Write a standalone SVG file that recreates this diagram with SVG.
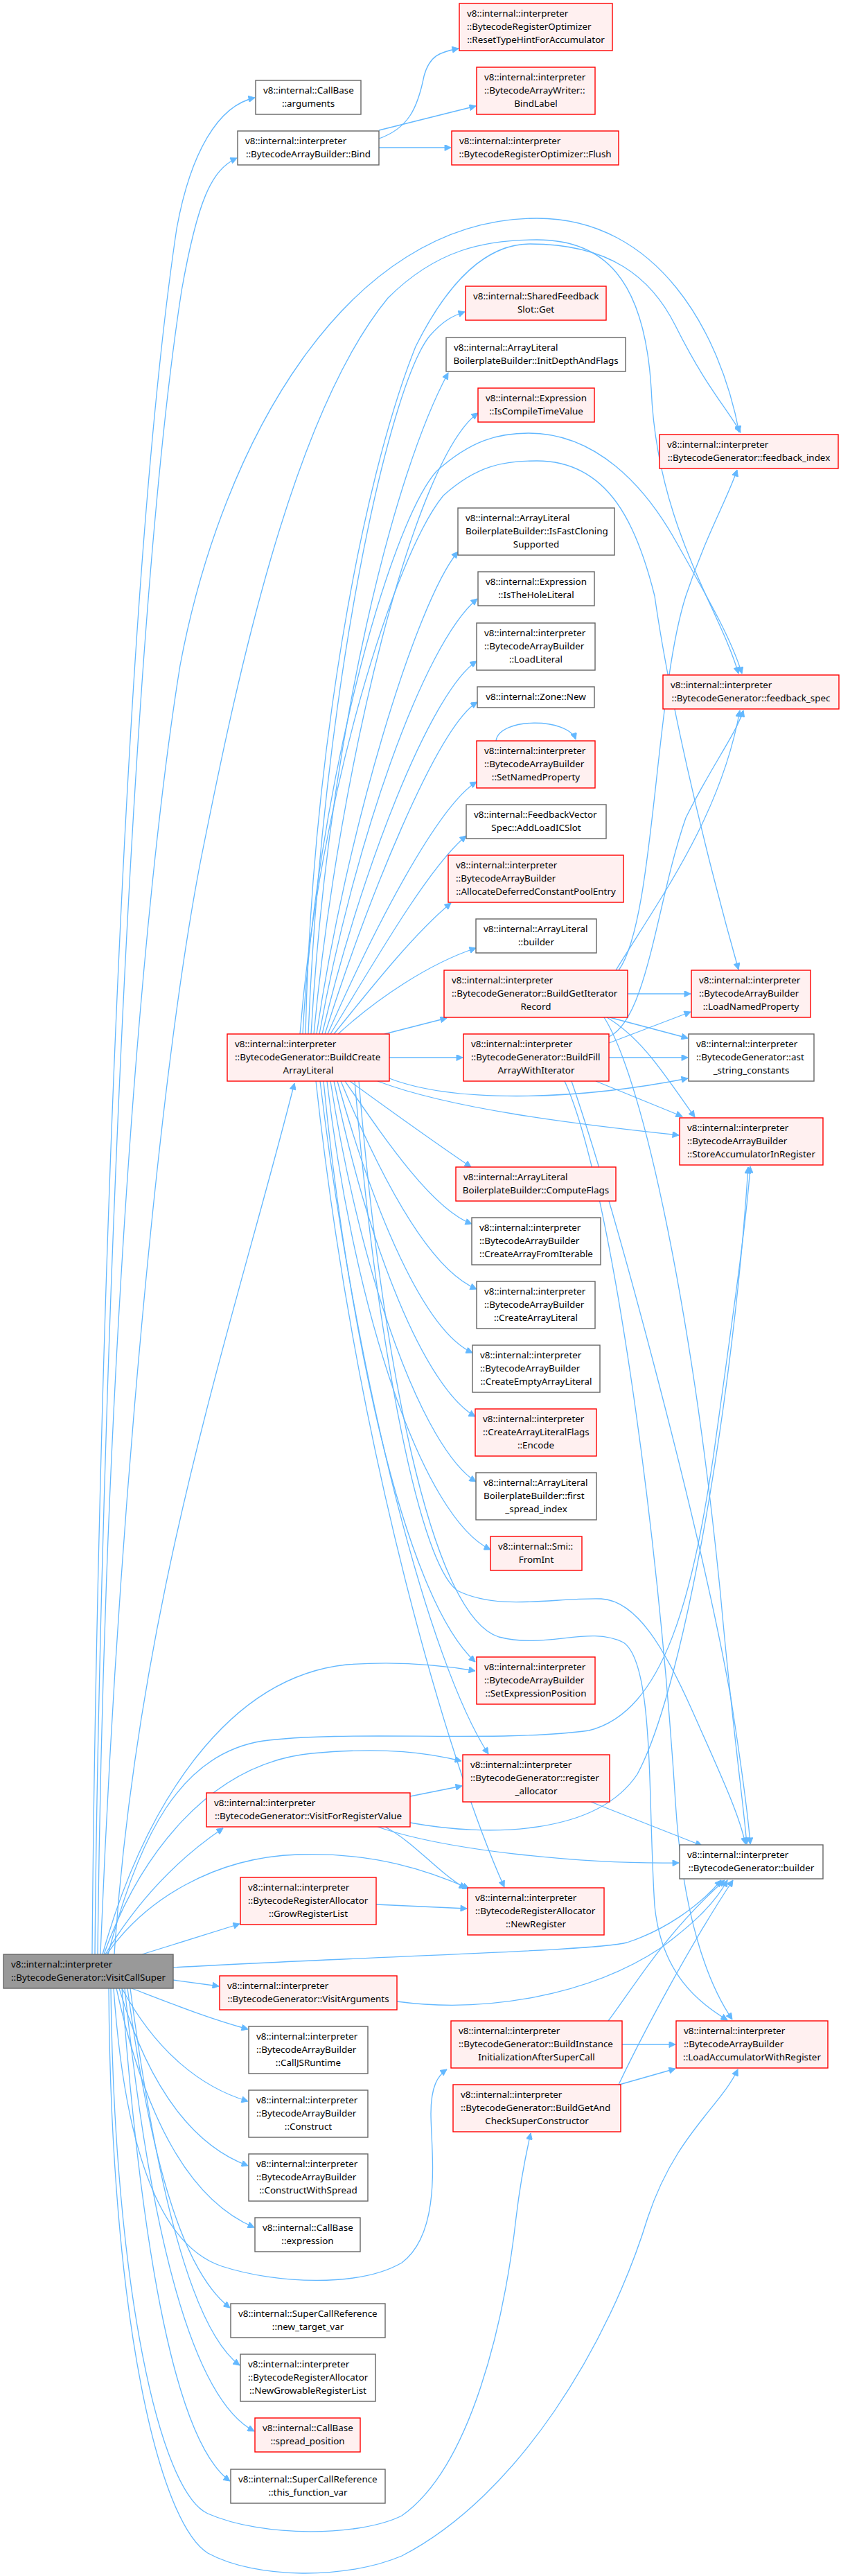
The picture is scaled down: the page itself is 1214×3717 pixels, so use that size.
<svg xmlns="http://www.w3.org/2000/svg" width="1214" height="3717" viewBox="0 0 1214 3717">
<style>
text{font-family:"Noto Sans","Liberation Sans",sans-serif;font-size:13.4px;fill:#000}
.c{text-anchor:middle}
.n rect{fill:#fff;stroke:#666;stroke-width:1.4}
.r rect{fill:#fff0f0;stroke:#ff0000;stroke-width:1.4}
.root rect{fill:#999;stroke:#666;stroke-width:1.4}
#edges path{fill:none;stroke:#63b8ff;stroke-width:1.3;marker-end:url(#a)}
</style>
<defs>
<marker id="a" viewBox="0 0 10 10" refX="10" refY="5" markerWidth="13" markerHeight="9" markerUnits="userSpaceOnUse" orient="auto">
<path d="M0,0 L10,5 L0,10 z" fill="#63b8ff" stroke="#63b8ff"/>
</marker>
</defs>
<rect width="1214" height="3717" fill="#fff"/>
<g id="edges">
<path d="M133,2820 C138,2200 170,900 255,330 C275,220 315,152 368,141"/>
<path d="M137,2820 C142,2250 180,950 262,420 C285,290 305,245 342,228"/>
<path d="M141,2820 C150,2000 205,1300 260,960 C320,640 500,315 775,315 C950,315 1040,480 1067,624"/>
<path d="M145,2820 C170,2200 230,1550 290,1240 C340,990 420,600 560,430 C630,360 700,346 775,346 C870,346 930,400 940,560 C948,760 1040,880 1066,972"/>
<path d="M165,2820 C200,2300 340,1900 425,1563"/>
<path d="M148,2820 C210,2600 330,2420 500,2402 C580,2396 640,2403 686,2411"/>
<path d="M150,2820 C200,2680 300,2545 450,2530 C560,2520 620,2530 666,2541"/>
<path d="M152,2820 C200,2740 260,2680 322,2638"/>
<path d="M154,2820 C210,2740 310,2680 430,2676 C540,2672 620,2700 677,2725"/>
<path d="M205,2820 L346,2776"/>
<path d="M156,2820 C200,2650 260,2530 380,2512 C500,2496 720,2515 850,2497 C960,2470 1000,2300 1030,2100 C1055,1920 1078,1760 1083,1683"/>
<path d="M250,2839 C550,2822 860,2815 905,2803 C960,2785 1010,2750 1041,2713"/>
<path d="M250,2857 L316,2866"/>
<path d="M190,2869 C250,2892 300,2912 358,2928"/>
<path d="M176,2869 C225,2960 290,3012 358,3032"/>
<path d="M172,2869 C220,3030 290,3100 358,3125"/>
<path d="M168,2869 C210,3060 275,3175 367,3214"/>
<path d="M164,2869 C180,3100 230,3240 320,3270 C400,3296 520,3300 580,3265 C640,3220 622,3100 622,3050 C622,3010 632,2995 645,2986"/>
<path d="M160,2869 C165,3300 230,3595 300,3627 C380,3662 520,3660 580,3630 C680,3560 728,3350 745,3200 C752,3140 760,3105 766,3078"/>
<path d="M157,2869 C160,3350 230,3640 300,3684 C370,3722 500,3722 580,3688 C750,3600 880,3380 935,3200 C975,3080 1040,3040 1065,2986"/>
<path d="M184,2869 C215,3100 260,3275 332,3330"/>
<path d="M188,2869 C225,3150 275,3360 346,3413"/>
<path d="M180,2869 C215,3210 275,3460 367,3508"/>
<path d="M176,2869 C205,3260 255,3525 332,3580"/>
<path d="M547,200 C590,185 603,155 612,110 C620,80 635,75 662,70"/>
<path d="M547,188 L687,153"/>
<path d="M547,213 L651,213"/>
<path d="M445,1492 C465,1000 560,560 620,485 C640,462 655,455 671,450"/>
<path d="M449,1492 C475,1050 570,680 647,538"/>
<path d="M453,1492 C490,1100 600,660 690,596"/>
<path d="M457,1492 C500,1200 600,870 661,796"/>
<path d="M461,1492 C510,1220 610,930 689,864"/>
<path d="M465,1492 C520,1260 620,1000 688,954"/>
<path d="M469,1492 C530,1300 630,1050 689,1013"/>
<path d="M473,1492 C540,1340 630,1165 688,1128"/>
<path d="M477,1492 C545,1380 620,1250 673,1206"/>
<path d="M482,1492 C540,1420 600,1345 651,1303"/>
<path d="M488,1492 C545,1440 620,1390 687,1368"/>
<path d="M555,1492 L645,1469"/>
<path d="M562,1526 L668,1526"/>
<path d="M562,1556 C650,1590 820,1590 993,1556"/>
<path d="M545,1560 C650,1600 830,1622 980,1638"/>
<path d="M441,1492 C450,1100 520,700 600,500 C660,380 720,352 765,352 C880,352 940,400 975,470 C1020,560 1050,590 1069,624"/>
<path d="M437,1492 C455,1150 560,760 630,680 C680,635 720,625 763,625 C860,625 930,700 975,780 C1020,860 1055,920 1071,972"/>
<path d="M433,1492 C460,1150 570,800 640,715 C690,670 730,665 775,665 C880,665 920,760 945,860 C965,1000 1010,1200 1066,1399"/>
<path d="M505,1560 C560,1600 630,1650 680,1684"/>
<path d="M498,1560 C560,1650 625,1745 681,1766"/>
<path d="M492,1560 C550,1700 620,1832 688,1860"/>
<path d="M487,1560 C540,1750 612,1920 682,1952"/>
<path d="M482,1560 C532,1800 612,2000 686,2044"/>
<path d="M477,1560 C522,1850 612,2090 687,2138"/>
<path d="M472,1560 C512,1900 612,2190 708,2236"/>
<path d="M467,1560 C500,1900 580,2300 686,2398"/>
<path d="M462,1560 C515,2000 620,2400 705,2531"/>
<path d="M456,1560 C515,2100 650,2550 728,2723"/>
<path d="M512,1560 C540,1900 600,2250 660,2295 C720,2325 800,2305 868,2307 C920,2310 960,2380 1000,2470 C1040,2560 1068,2620 1076,2661"/>
<path d="M518,1560 C550,1950 620,2330 720,2362 C790,2380 850,2345 900,2370 C945,2400 935,2600 945,2750 C955,2850 1010,2890 1050,2915"/>
<path d="M906,1434 L997,1434"/>
<path d="M880,1468 L993,1498"/>
<path d="M876,1468 C930,1500 965,1560 1003,1612"/>
<path d="M893,1400 C945,1330 945,1000 990,860 C1020,770 1050,720 1064,678"/>
<path d="M889,1400 C950,1300 1040,1180 1068,1025"/>
<path d="M872,1468 C930,1560 1000,1900 1040,2300 C1058,2500 1073,2600 1078,2661"/>
<path d="M879,1505 L997,1460"/>
<path d="M879,1526 L993,1526"/>
<path d="M860,1560 L985,1611"/>
<path d="M879,1496 C935,1470 948,1300 990,1180 C1030,1100 1062,1060 1073,1025"/>
<path d="M825,1560 C890,1750 1010,2200 1055,2450 C1072,2560 1080,2620 1083,2661"/>
<path d="M815,1560 C880,1700 950,2200 975,2600 C985,2760 1020,2860 1057,2914"/>
<path d="M716,1069 C720,1035 820,1035 831,1067"/>
<path d="M592,2592 L667,2577"/>
<path d="M592,2630 C700,2650 860,2650 920,2560 C990,2430 1060,2000 1080,1684"/>
<path d="M545,2636 C650,2672 850,2690 980,2688"/>
<path d="M556,2636 C600,2660 630,2700 672,2725"/>
<path d="M853,2600 L1013,2663"/>
<path d="M543,2748 L674,2754"/>
<path d="M573,2888 C700,2905 850,2880 955,2810 C995,2780 1030,2750 1050,2713"/>
<path d="M898,2950 L975,2950"/>
<path d="M878,2916 C920,2860 960,2790 1046,2713"/>
<path d="M894,3008 L975,2985"/>
<path d="M893,3008 C930,2930 1000,2800 1058,2713"/>
</g>
<g id="VisitCallSuper" class="root"><rect x="5" y="2820" width="245" height="49"/><text x="16" y="2838.5">v8::internal::interpreter</text><text class="c" x="127.5" y="2857.5">::BytecodeGenerator::VisitCallSuper</text></g>
<g id="CallBase_arguments" class="n"><rect x="369" y="116" width="152" height="49"/><text x="380" y="134.5">v8::internal::CallBase</text><text class="c" x="445" y="153.5">::arguments</text></g>
<g id="Bind" class="n"><rect x="343" y="189" width="204" height="49"/><text x="354" y="207.5">v8::internal::interpreter</text><text class="c" x="445" y="226.5">::BytecodeArrayBuilder::Bind</text></g>
<g id="ResetTypeHintForAccumulator" class="r"><rect x="663" y="5" width="221" height="68"/><text x="674" y="23.5">v8::internal::interpreter</text><text x="674" y="42.5">::BytecodeRegisterOptimizer</text><text class="c" x="773.5" y="61.5">::ResetTypeHintForAccumulator</text></g>
<g id="BindLabel" class="r"><rect x="688" y="97" width="171" height="68"/><text x="699" y="115.5">v8::internal::interpreter</text><text x="699" y="134.5">::BytecodeArrayWriter::</text><text class="c" x="773.5" y="153.5">BindLabel</text></g>
<g id="Flush" class="r"><rect x="652" y="189" width="241" height="49"/><text x="663" y="207.5">v8::internal::interpreter</text><text class="c" x="772.5" y="226.5">::BytecodeRegisterOptimizer::Flush</text></g>
<g id="SharedFeedbackSlot_Get" class="r"><rect x="672" y="413" width="203" height="49"/><text x="683" y="431.5">v8::internal::SharedFeedback</text><text class="c" x="773.5" y="450.5">Slot::Get</text></g>
<g id="InitDepthAndFlags" class="n"><rect x="644" y="487" width="259" height="49"/><text x="655" y="505.5">v8::internal::ArrayLiteral</text><text class="c" x="773.5" y="524.5">BoilerplateBuilder::InitDepthAndFlags</text></g>
<g id="IsCompileTimeValue" class="r"><rect x="690" y="560" width="168" height="49"/><text x="701" y="578.5">v8::internal::Expression</text><text class="c" x="774" y="597.5">::IsCompileTimeValue</text></g>
<g id="feedback_index" class="r"><rect x="952" y="627" width="258" height="49"/><text x="963" y="645.5">v8::internal::interpreter</text><text class="c" x="1081" y="664.5">::BytecodeGenerator::feedback_index</text></g>
<g id="IsFastCloningSupported" class="n"><rect x="661" y="733" width="226" height="68"/><text x="672" y="751.5">v8::internal::ArrayLiteral</text><text x="672" y="770.5">BoilerplateBuilder::IsFastCloning</text><text class="c" x="774" y="789.5">Supported</text></g>
<g id="IsTheHoleLiteral" class="n"><rect x="690" y="825" width="168" height="49"/><text x="701" y="843.5">v8::internal::Expression</text><text class="c" x="774" y="862.5">::IsTheHoleLiteral</text></g>
<g id="LoadLiteral" class="n"><rect x="688" y="899" width="171" height="68"/><text x="699" y="917.5">v8::internal::interpreter</text><text x="699" y="936.5">::BytecodeArrayBuilder</text><text class="c" x="773.5" y="955.5">::LoadLiteral</text></g>
<g id="feedback_spec" class="r"><rect x="957" y="974" width="254" height="49"/><text x="968" y="992.5">v8::internal::interpreter</text><text class="c" x="1084" y="1011.5">::BytecodeGenerator::feedback_spec</text></g>
<g id="Zone_New" class="n"><rect x="689" y="991" width="169" height="30"/><text class="c" x="773.5" y="1009.5">v8::internal::Zone::New</text></g>
<g id="SetNamedProperty" class="r"><rect x="688" y="1069" width="171" height="68"/><text x="699" y="1087.5">v8::internal::interpreter</text><text x="699" y="1106.5">::BytecodeArrayBuilder</text><text class="c" x="773.5" y="1125.5">::SetNamedProperty</text></g>
<g id="AddLoadICSlot" class="n"><rect x="673" y="1161" width="202" height="49"/><text x="684" y="1179.5">v8::internal::FeedbackVector</text><text class="c" x="774" y="1198.5">Spec::AddLoadICSlot</text></g>
<g id="AllocateDeferredConstantPoolEntry" class="r"><rect x="647" y="1234" width="253" height="68"/><text x="658" y="1252.5">v8::internal::interpreter</text><text x="658" y="1271.5">::BytecodeArrayBuilder</text><text class="c" x="773.5" y="1290.5">::AllocateDeferredConstantPoolEntry</text></g>
<g id="ArrayLiteral_builder" class="n"><rect x="687" y="1326" width="174" height="49"/><text x="698" y="1344.5">v8::internal::ArrayLiteral</text><text class="c" x="774" y="1363.5">::builder</text></g>
<g id="BuildGetIteratorRecord" class="r"><rect x="641" y="1400" width="265" height="68"/><text x="652" y="1418.5">v8::internal::interpreter</text><text x="652" y="1437.5">::BytecodeGenerator::BuildGetIterator</text><text class="c" x="773.5" y="1456.5">Record</text></g>
<g id="LoadNamedProperty" class="r"><rect x="998" y="1400" width="172" height="68"/><text x="1009" y="1418.5">v8::internal::interpreter</text><text x="1009" y="1437.5">::BytecodeArrayBuilder</text><text class="c" x="1084" y="1456.5">::LoadNamedProperty</text></g>
<g id="BuildCreateArrayLiteral" class="r"><rect x="328" y="1492" width="234" height="68"/><text x="339" y="1510.5">v8::internal::interpreter</text><text x="339" y="1529.5">::BytecodeGenerator::BuildCreate</text><text class="c" x="445" y="1548.5">ArrayLiteral</text></g>
<g id="BuildFillArrayWithIterator" class="r"><rect x="669" y="1492" width="210" height="68"/><text x="680" y="1510.5">v8::internal::interpreter</text><text x="680" y="1529.5">::BytecodeGenerator::BuildFill</text><text class="c" x="774" y="1548.5">ArrayWithIterator</text></g>
<g id="ast_string_constants" class="n"><rect x="994" y="1492" width="181" height="68"/><text x="1005" y="1510.5">v8::internal::interpreter</text><text x="1005" y="1529.5">::BytecodeGenerator::ast</text><text class="c" x="1084.5" y="1548.5">_string_constants</text></g>
<g id="StoreAccumulatorInRegister" class="r"><rect x="981" y="1613" width="207" height="68"/><text x="992" y="1631.5">v8::internal::interpreter</text><text x="992" y="1650.5">::BytecodeArrayBuilder</text><text class="c" x="1084.5" y="1669.5">::StoreAccumulatorInRegister</text></g>
<g id="ComputeFlags" class="r"><rect x="658" y="1684" width="231" height="49"/><text x="669" y="1702.5">v8::internal::ArrayLiteral</text><text class="c" x="773.5" y="1721.5">BoilerplateBuilder::ComputeFlags</text></g>
<g id="CreateArrayFromIterable" class="n"><rect x="681" y="1757" width="186" height="68"/><text x="692" y="1775.5">v8::internal::interpreter</text><text x="692" y="1794.5">::BytecodeArrayBuilder</text><text class="c" x="774" y="1813.5">::CreateArrayFromIterable</text></g>
<g id="CreateArrayLiteral" class="n"><rect x="688" y="1849" width="171" height="68"/><text x="699" y="1867.5">v8::internal::interpreter</text><text x="699" y="1886.5">::BytecodeArrayBuilder</text><text class="c" x="773.5" y="1905.5">::CreateArrayLiteral</text></g>
<g id="CreateEmptyArrayLiteral" class="n"><rect x="682" y="1941" width="184" height="68"/><text x="693" y="1959.5">v8::internal::interpreter</text><text x="693" y="1978.5">::BytecodeArrayBuilder</text><text class="c" x="774" y="1997.5">::CreateEmptyArrayLiteral</text></g>
<g id="CreateArrayLiteralFlags_Encode" class="r"><rect x="686" y="2033" width="175" height="68"/><text x="697" y="2051.5">v8::internal::interpreter</text><text x="697" y="2070.5">::CreateArrayLiteralFlags</text><text class="c" x="773.5" y="2089.5">::Encode</text></g>
<g id="first_spread_index" class="n"><rect x="687" y="2125" width="174" height="68"/><text x="698" y="2143.5">v8::internal::ArrayLiteral</text><text x="698" y="2162.5">BoilerplateBuilder::first</text><text class="c" x="774" y="2181.5">_spread_index</text></g>
<g id="Smi_FromInt" class="r"><rect x="708" y="2217" width="132" height="49"/><text x="719" y="2235.5">v8::internal::Smi::</text><text class="c" x="774" y="2254.5">FromInt</text></g>
<g id="SetExpressionPosition" class="r"><rect x="688" y="2391" width="171" height="68"/><text x="699" y="2409.5">v8::internal::interpreter</text><text x="699" y="2428.5">::BytecodeArrayBuilder</text><text class="c" x="773.5" y="2447.5">::SetExpressionPosition</text></g>
<g id="register_allocator" class="r"><rect x="668" y="2532" width="212" height="68"/><text x="679" y="2550.5">v8::internal::interpreter</text><text x="679" y="2569.5">::BytecodeGenerator::register</text><text class="c" x="774" y="2588.5">_allocator</text></g>
<g id="VisitForRegisterValue" class="r"><rect x="298" y="2587" width="294" height="49"/><text x="309" y="2605.5">v8::internal::interpreter</text><text class="c" x="445" y="2624.5">::BytecodeGenerator::VisitForRegisterValue</text></g>
<g id="BytecodeGenerator_builder" class="n"><rect x="981" y="2662" width="207" height="49"/><text x="992" y="2680.5">v8::internal::interpreter</text><text class="c" x="1084.5" y="2699.5">::BytecodeGenerator::builder</text></g>
<g id="GrowRegisterList" class="r"><rect x="347" y="2709" width="196" height="68"/><text x="358" y="2727.5">v8::internal::interpreter</text><text x="358" y="2746.5">::BytecodeRegisterAllocator</text><text class="c" x="445" y="2765.5">::GrowRegisterList</text></g>
<g id="NewRegister" class="r"><rect x="675" y="2724" width="197" height="68"/><text x="686" y="2742.5">v8::internal::interpreter</text><text x="686" y="2761.5">::BytecodeRegisterAllocator</text><text class="c" x="773.5" y="2780.5">::NewRegister</text></g>
<g id="VisitArguments" class="r"><rect x="317" y="2851" width="256" height="49"/><text x="328" y="2869.5">v8::internal::interpreter</text><text class="c" x="445" y="2888.5">::BytecodeGenerator::VisitArguments</text></g>
<g id="BuildInstanceInitializationAfterSuperCall" class="r"><rect x="651" y="2916" width="247" height="68"/><text x="662" y="2934.5">v8::internal::interpreter</text><text x="662" y="2953.5">::BytecodeGenerator::BuildInstance</text><text class="c" x="774.5" y="2972.5">InitializationAfterSuperCall</text></g>
<g id="LoadAccumulatorWithRegister" class="r"><rect x="976" y="2916" width="219" height="68"/><text x="987" y="2934.5">v8::internal::interpreter</text><text x="987" y="2953.5">::BytecodeArrayBuilder</text><text class="c" x="1085.5" y="2972.5">::LoadAccumulatorWithRegister</text></g>
<g id="CallJSRuntime" class="n"><rect x="359" y="2924" width="172" height="68"/><text x="370" y="2942.5">v8::internal::interpreter</text><text x="370" y="2961.5">::BytecodeArrayBuilder</text><text class="c" x="445" y="2980.5">::CallJSRuntime</text></g>
<g id="BuildGetAndCheckSuperConstructor" class="r"><rect x="654" y="3008" width="242" height="68"/><text x="665" y="3026.5">v8::internal::interpreter</text><text x="665" y="3045.5">::BytecodeGenerator::BuildGetAnd</text><text class="c" x="775" y="3064.5">CheckSuperConstructor</text></g>
<g id="Construct" class="n"><rect x="359" y="3016" width="172" height="68"/><text x="370" y="3034.5">v8::internal::interpreter</text><text x="370" y="3053.5">::BytecodeArrayBuilder</text><text class="c" x="445" y="3072.5">::Construct</text></g>
<g id="ConstructWithSpread" class="n"><rect x="359" y="3108" width="172" height="68"/><text x="370" y="3126.5">v8::internal::interpreter</text><text x="370" y="3145.5">::BytecodeArrayBuilder</text><text class="c" x="445" y="3164.5">::ConstructWithSpread</text></g>
<g id="CallBase_expression" class="n"><rect x="368" y="3200" width="152" height="49"/><text x="379" y="3218.5">v8::internal::CallBase</text><text class="c" x="444" y="3237.5">::expression</text></g>
<g id="new_target_var" class="n"><rect x="333" y="3324" width="223" height="49"/><text x="344" y="3342.5">v8::internal::SuperCallReference</text><text class="c" x="444.5" y="3361.5">::new_target_var</text></g>
<g id="NewGrowableRegisterList" class="n"><rect x="347" y="3397" width="195" height="68"/><text x="358" y="3415.5">v8::internal::interpreter</text><text x="358" y="3434.5">::BytecodeRegisterAllocator</text><text class="c" x="444.5" y="3453.5">::NewGrowableRegisterList</text></g>
<g id="CallBase_spread_position" class="r"><rect x="368" y="3489" width="152" height="49"/><text x="379" y="3507.5">v8::internal::CallBase</text><text class="c" x="444" y="3526.5">::spread_position</text></g>
<g id="this_function_var" class="n"><rect x="333" y="3563" width="223" height="49"/><text x="344" y="3581.5">v8::internal::SuperCallReference</text><text class="c" x="444.5" y="3600.5">::this_function_var</text></g>
</svg>
